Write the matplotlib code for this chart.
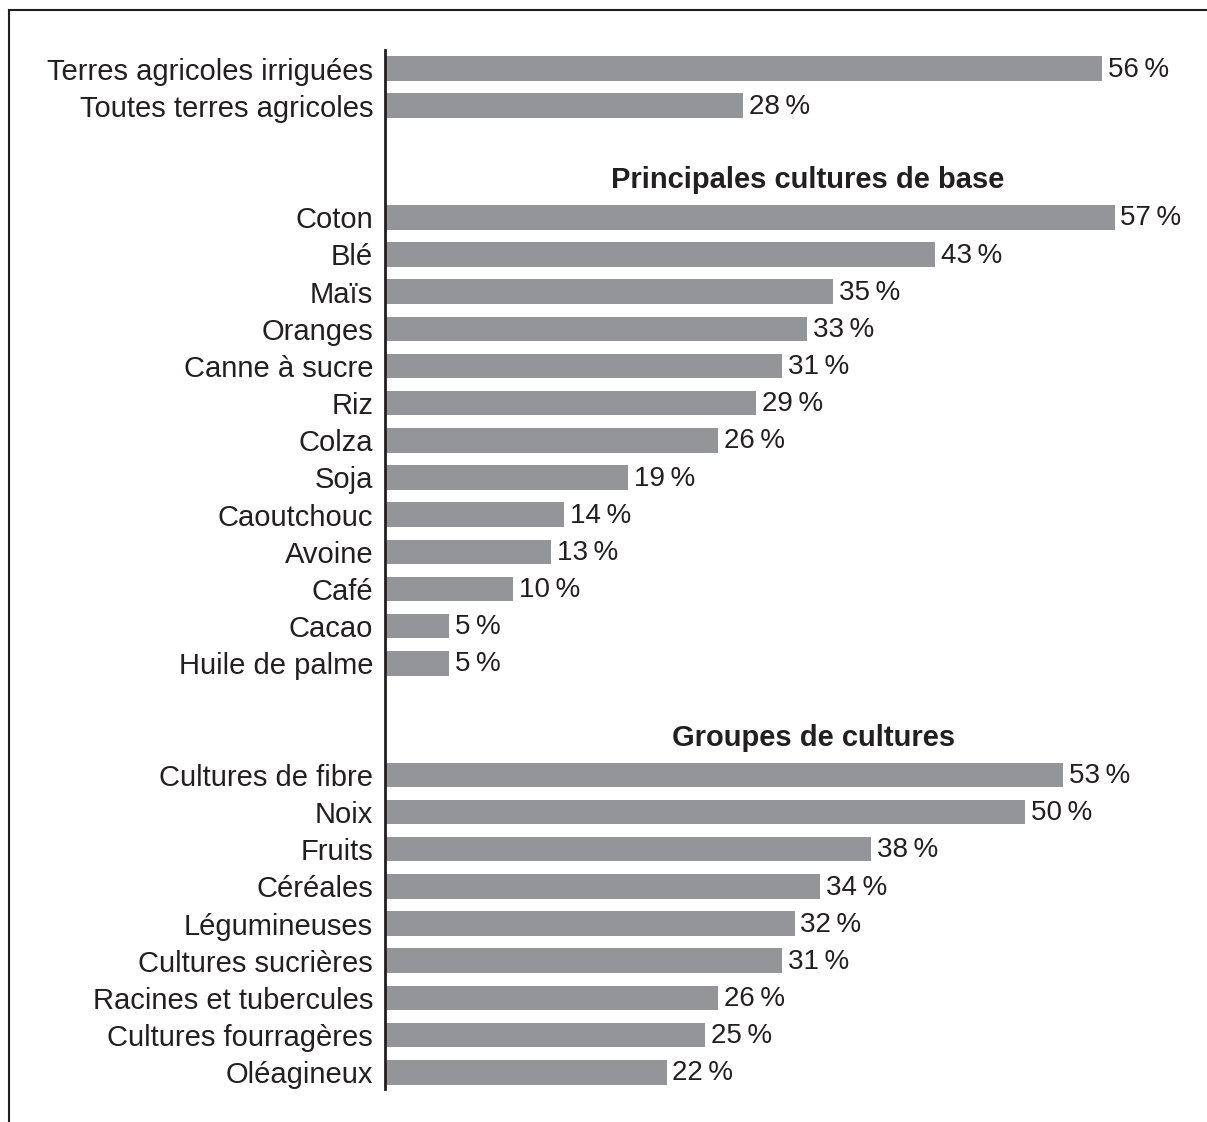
import matplotlib.pyplot as plt
from matplotlib.lines import Line2D

plt.rcParams['font.family'] = ['Liberation Sans', 'DejaVu Sans']

# Daten
terres_labels = ['Terres agricoles irriguées', 'Toutes terres agricoles']
terres_values = [56, 28]

cultures_titre = 'Principales cultures de base'
cultures_labels = ['Coton', 'Blé', 'Maïs', 'Oranges', 'Canne à sucre', 'Riz', 'Colza',
                   'Soja', 'Caoutchouc', 'Avoine', 'Café', 'Cacao', 'Huile de palme']
cultures_values = [57, 43, 35, 33, 31, 29, 26, 19, 14, 13, 10, 5, 5]

groupes_titre = 'Groupes de cultures'
groupes_labels = ['Cultures de fibre', 'Noix', 'Fruits', 'Céréales', 'Légumineuses',
                  'Cultures sucrières', 'Racines et tubercules', 'Cultures fourragères',
                  'Oléagineux']
groupes_values = [53, 50, 38, 34, 32, 31, 26, 25, 22]

bar_color = '#939598'
text_color = '#231f20'

# Zeilenpositionen: Gruppen mit Leerzeile + Titelzeile dazwischen
pos_terres = [0, 1]
pos_titre1 = 3
pos_cultures = list(range(4, 4 + len(cultures_labels)))
pos_titre2 = pos_cultures[-1] + 2
pos_groupes = list(range(pos_titre2 + 1, pos_titre2 + 1 + len(groupes_labels)))

labels = terres_labels + cultures_labels + groupes_labels
values = terres_values + cultures_values + groupes_values
positions = pos_terres + pos_cultures + pos_groupes

fig = plt.figure(figsize=(12.07, 11.22), dpi=100)
ax = fig.add_axes([385 / 1207, 1 - 1089 / 1122, 1 - 385 / 1207, (1089 - 50) / 1122])

ax.barh(positions, values, height=0.66, color=bar_color)
ax.set_ylim(pos_groupes[-1] + 0.45, -0.5)
ax.set_xlim(0, (1207 - 385) / 12.8)

for p, v in zip(positions, values):
    ax.text(v + 0.45, p + 0.03, f'{v}\u2009%', va='center', ha='left', fontsize=20,
            color=text_color)

ax.set_yticks(positions)
ax.set_yticklabels(labels, fontsize=21, color=text_color)
ax.tick_params(axis='y', length=0, pad=8.5)
ax.set_xticks([])

for s in ['top', 'right', 'bottom']:
    ax.spines[s].set_visible(False)
ax.spines['left'].set_linewidth(2)
ax.spines['left'].set_color(text_color)

ax.text(33, pos_titre1, cultures_titre, ha='center', va='center', fontsize=21,
        fontweight='bold', color=text_color)
ax.text(33.5, pos_titre2, groupes_titre, ha='center', va='center', fontsize=21,
        fontweight='bold', color=text_color)

# Rahmen oben und links
fig.add_artist(Line2D([9 / 1207, 1], [1 - 10 / 1122, 1 - 10 / 1122], color=text_color, lw=1.5))
fig.add_artist(Line2D([9 / 1207, 9 / 1207], [0, 1 - 10 / 1122], color=text_color, lw=1.5))

fig.savefig('out.png', dpi=100)
